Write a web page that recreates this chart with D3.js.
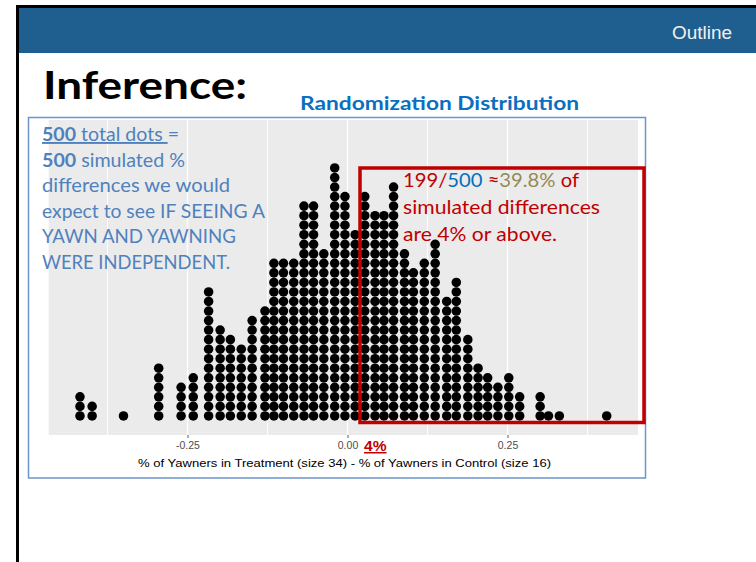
<!DOCTYPE html>
<html><head><meta charset="utf-8">
<script src="https://cdn.jsdelivr.net/npm/d3@7"></script>
<style>body{margin:0;background:#fff;overflow:hidden} svg{display:block}</style>
</head><body>
<script>
// ---- data ----
const binCenters = [-0.418,-0.399,-0.350,-0.295,-0.260,-0.241,-0.217,-0.199,-0.183,-0.166,-0.149,-0.129,
  -0.115,-0.100,-0.084,-0.068,-0.053,-0.037,-0.020,-0.004,0.012,0.027,0.043,0.057,0.072,0.089,0.103,0.120,
  0.137,0.155,0.170,0.188,0.204,0.219,0.235,0.252,0.269,0.301,0.314,0.331,0.405];
const binCounts = [3,2,1,6,4,5,14,10,9,8,11,12,
  17,17,17,23,23,18,27,24,20,24,22,22,25,18,16,17,19,13,15,9,6,5,4,5,3,3,1,1,1];
const majorTicks = [-0.25, 0, 0.25];
const minorTicks = [-0.375, -0.125, 0.125, 0.375];
const tickLabels = ["-0.25", "0.00", "0.25"];
const binWidth = 0.0149;
const observedLabel = "4%";
const axisTitle = "% of Yawners in Treatment (size 34) - % of Yawners in Control (size 16)";
const chartTitle = "Randomization Distribution";
const slideTitle = "Inference:";
const navLabel = "Outline";
const noteLines = ["differences we would", "expect to see IF SEEING A", "YAWN AND YAWNING", "WERE INDEPENDENT."];

const W = 756, H = 562;
const svg = d3.select("body").append("svg").attr("width", W).attr("height", H);
const calibri = "Lato, 'Open Sans', sans-serif";
const arial = "'Liberation Sans', Arial, sans-serif";

function stretch(sel, target){
  sel.attr("textLength", target).attr("lengthAdjust", "spacingAndGlyphs");
  return sel;
}

// slide frame
svg.append("rect").attr("x",0).attr("y",0).attr("width",W).attr("height",H).attr("fill","#fff");
svg.append("rect").attr("x",17).attr("y",5).attr("width",W-17).attr("height",3).attr("fill","#000");
svg.append("rect").attr("x",16).attr("y",5).attr("width",3).attr("height",H-5).attr("fill","#000");
svg.append("rect").attr("x",19).attr("y",8).attr("width",W-19).attr("height",45).attr("fill","#1f5f8f");
const nav = svg.append("text").attr("x",672).attr("y",38.5)
  .attr("font-family","'Liberation Sans Narrow', 'Liberation Sans', Arial, sans-serif")
  .attr("font-size",18).attr("fill","#f2f2f2").text(navLabel);
stretch(nav, 60);

const t1 = svg.append("text").attr("x",43).attr("y",98.5).attr("font-family",calibri)
  .attr("font-weight","bold").attr("font-size",38.5).attr("fill","#000").text(slideTitle);
stretch(t1, 204);
const t2 = svg.append("text").attr("x",300).attr("y",110).attr("font-family",calibri)
  .attr("font-weight","bold").attr("font-size",19).attr("fill","#0a6fc0").text(chartTitle);
stretch(t2, 279);

// chart frame
svg.append("rect").attr("x",28.5).attr("y",117.5).attr("width",617).attr("height",360.5)
  .attr("fill","none").attr("stroke","#6d95c9").attr("stroke-width",1.5);

// panel
const panel = {left:48.7, right:638, top:120, bottom:435};
const x = d3.scaleLinear().domain([-0.25,0.25]).range([187.5,507.5]);
const y = d3.scaleLinear().domain([-0.05,1.05]).range([panel.bottom, panel.top]);
svg.append("rect").attr("x",panel.left).attr("y",panel.top)
  .attr("width",panel.right-panel.left).attr("height",panel.bottom-panel.top).attr("fill","#ebebeb");
svg.append("g").selectAll("line").data(minorTicks).join("line")
  .attr("x1",d=>x(d)).attr("x2",d=>x(d)).attr("y1",panel.top).attr("y2",panel.bottom)
  .attr("stroke","#fff").attr("stroke-width",0.9);
svg.append("g").selectAll("line").data(majorTicks).join("line")
  .attr("x1",d=>x(d)).attr("x2",d=>x(d)).attr("y1",panel.top).attr("y2",panel.bottom)
  .attr("stroke","#fff").attr("stroke-width",1.3);

// x axis
const xAxis = d3.axisBottom(x).tickValues(majorTicks).tickFormat((d,i)=>tickLabels[i]).tickSize(3).tickPadding(4);
const ax = svg.append("g").attr("transform",`translate(0,${panel.bottom})`).call(xAxis);
ax.select(".domain").remove();
ax.selectAll(".tick line").attr("stroke","#333").attr("stroke-width",0.8);
ax.selectAll(".tick text").attr("fill","#4d4d4d").attr("font-family",arial).attr("font-size",10.5);
const at = svg.append("text").attr("x",138).attr("y",467)
  .attr("font-family",arial).attr("font-size",11.5).attr("fill","#000").text(axisTitle);
stretch(at, 413);

// dots
const dots = [];
binCenters.forEach((c,i)=>{ for(let k=0;k<binCounts[i];k++) dots.push({x:c,k}); });
const diam = x(binWidth) - x(0);
svg.append("g").selectAll("circle").data(dots).join("circle")
  .attr("cx",d=>x(d.x)).attr("cy",d=>y(0) - (d.k+0.5)*diam)
  .attr("r",diam/2).attr("fill","#000");

// observed label
const ol = svg.append("text").attr("x",364).attr("y",451).attr("font-family",arial).attr("font-weight","bold")
  .attr("font-size",15).attr("fill","#c00000").attr("text-decoration","underline").text(observedLabel);
stretch(ol, 22.5);

// red box
svg.append("rect").attr("x",360).attr("y",168).attr("width",284).attr("height",254.5)
  .attr("fill","none").attr("stroke","#c00000").attr("stroke-width",3.5);

// red annotation
const red = "#c00000";
const rfs = 20;
const r1 = svg.append("text").attr("x",403).attr("y",187).attr("font-family",calibri)
  .attr("font-size",rfs).attr("fill",red);
r1.append("tspan").text("199/");
r1.append("tspan").attr("fill","#0070c0").text("500");
r1.append("tspan").text(" \u2248");
r1.append("tspan").attr("fill","#948a54").text("39.8%");
r1.append("tspan").text(" of");
stretch(r1, 176);
stretch(svg.append("text").attr("x",403).attr("y",214).attr("font-family",calibri)
  .attr("font-size",rfs).attr("fill",red).text("simulated differences"), 197);
stretch(svg.append("text").attr("x",403).attr("y",240.5).attr("font-family",calibri)
  .attr("font-size",rfs).attr("fill",red).text("are 4% or above."), 154);

// blue note
const blue = "#4f81bd";
const nfs = 19;
const noteW = [188, 223, 194, 188];
const noteY = [192, 217.5, 243, 268.5];
noteLines.forEach((l,i)=>{
  stretch(svg.append("text").attr("x",42).attr("y",noteY[i]).attr("font-family",calibri)
    .attr("font-size",nfs).attr("fill",blue).text(l), noteW[i]);
});
const n1 = svg.append("text").attr("x",42).attr("y",141).attr("font-family",calibri)
  .attr("font-size",nfs).attr("fill",blue);
n1.append("tspan").attr("font-weight","bold").attr("text-decoration","underline").text("500");
n1.append("tspan").attr("text-decoration","underline").text(" total dots ");
n1.append("tspan").text("=");
stretch(n1, 137);
const n2 = svg.append("text").attr("x",42).attr("y",166.5).attr("font-family",calibri)
  .attr("font-size",nfs).attr("fill",blue);
n2.append("tspan").attr("font-weight","bold").text("500");
n2.append("tspan").text(" simulated %");
stretch(n2, 143);
</script>
</body></html>
